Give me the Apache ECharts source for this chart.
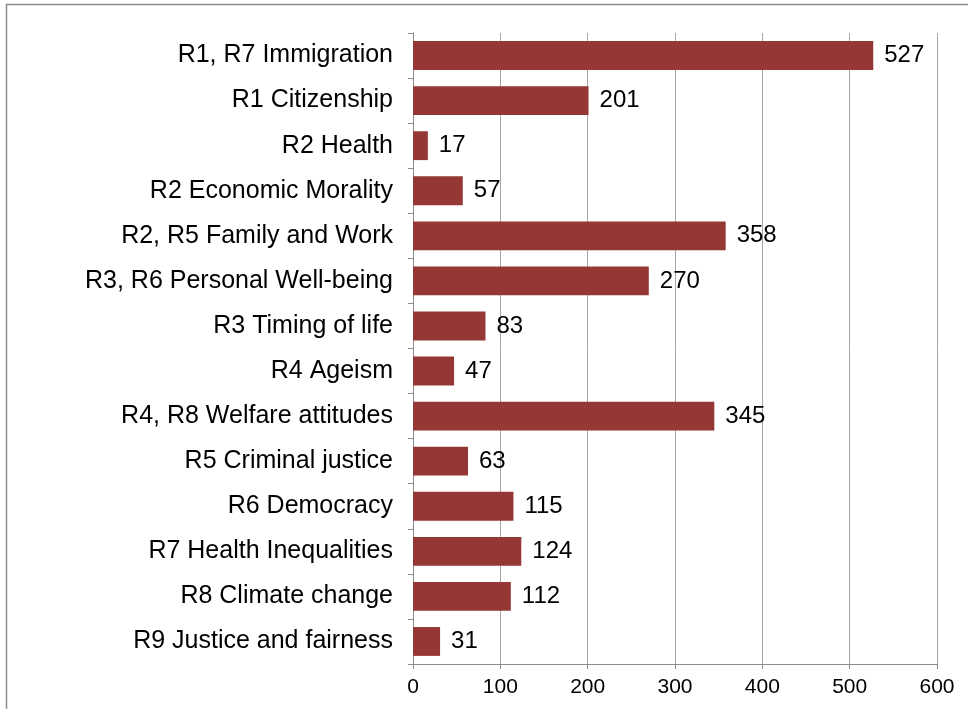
<!DOCTYPE html>
<html>
<head>
<meta charset="utf-8">
<script src="https://cdn.jsdelivr.net/npm/echarts@6/dist/echarts.min.js"></script>
<style>
  html, body { margin: 0; padding: 0; background: #fff; }
  #chart { width: 968px; height: 709px; }
</style>
</head>
<body>
<div id="chart"></div>
<script>
const categories = [
  'R1, R7 Immigration',
  'R1 Citizenship',
  'R2 Health',
  'R2 Economic Morality',
  'R2, R5 Family and Work',
  'R3, R6 Personal Well-being',
  'R3 Timing of life',
  'R4 Ageism',
  'R4, R8 Welfare attitudes',
  'R5 Criminal justice',
  'R6 Democracy',
  'R7 Health Inequalities',
  'R8 Climate change',
  'R9 Justice and fairness'
]
const counts = [527, 201, 17, 57, 358, 270, 83, 47, 345, 63, 115, 124, 112, 31]

const chart = echarts.init(document.getElementById('chart'))

const option = {
  animation: false,
  textStyle: { fontFamily: 'Liberation Sans, Arial, sans-serif' },
  graphic: [
    {
      type: 'rect',
      shape: { x: 6.5, y: 4.5, width: 1000, height: 800 },
      style: { fill: 'none', stroke: '#8c8c8c', lineWidth: 1.5 },
      silent: true
    }
  ],
  grid: {
    left: 413,
    right: 31,
    top: 33,
    bottom: 45
  },
  xAxis: {
    type: 'value',
    min: 0,
    max: 600,
    interval: 100,
    axisLine: { show: true, lineStyle: { color: '#8c8c8c', width: 1 } },
    axisTick: { show: true, length: 5, lineStyle: { color: '#8c8c8c' } },
    axisLabel: { color: '#000', fontSize: 21, margin: 13 },
    splitLine: { show: true, lineStyle: { color: '#a6a6a6', width: 1 } }
  },
  yAxis: {
    type: 'category',
    inverse: true,
    data: categories,
    axisLine: { show: true, lineStyle: { color: '#8c8c8c', width: 1 } },
    axisTick: { show: true, length: 5, inside: false, lineStyle: { color: '#8c8c8c' } },
    axisLabel: { color: '#000', fontSize: 25, margin: 20 }
  },
  series: [
    {
      type: 'bar',
      data: counts,
      barCategoryGap: '36%',
      itemStyle: { color: '#953735' },
      label: {
        show: true,
        position: 'right',
        distance: 11,
        color: '#000',
        fontSize: 24
      }
    }
  ]
}

chart.setOption(option)
</script>
</body>
</html>
